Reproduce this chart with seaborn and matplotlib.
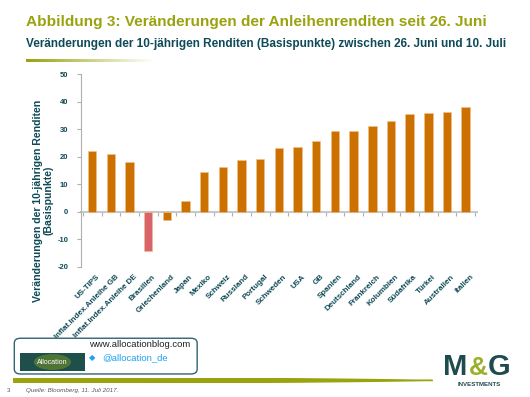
import matplotlib
matplotlib.use("Agg")
import matplotlib.pyplot as plt
import matplotlib.transforms as mtransforms
import numpy as np
import pandas as pd
import seaborn as sns
from matplotlib.patches import FancyBboxPatch, Rectangle, Ellipse

# data
laender = ["US-TIPS", "Inflat.Index.Anleihe GB", "Inflat.Index.Anleihe DE", "Brasilien",
           "Griechenland", "Japan", "Mexiko", "Schweiz", "Russland", "Portugal", "Schweden",
           "USA", "GB", "Spanien", "Deutschland", "Frankreich", "Kolumbien", "Südafrika",
           "Türkei", "Australien", "Italien"]
veraenderung = [22.2, 20.9, 18.1, -14.3, -3.1, 3.9, 14.4, 16.3, 18.9, 19.2, 23.3,
                23.4, 25.8, 29.4, 29.4, 31.0, 32.8, 35.4, 35.8, 36.2, 37.9]
yticks = [-20, -10, 0, 10, 20, 30, 40, 50]

orange = "#CC7000"
rot = "#D9636B"
teal = "#0E4A57"
oliv = "#9AA20E"

farben = {l: (rot if l == "Brasilien" else orange) for l in laender}
df = pd.DataFrame({"land": laender, "wert": veraenderung})

sns.set_style("white")
plt.rcParams["font.family"] = ["Liberation Sans", "DejaVu Sans"]

fig = plt.figure(figsize=(5.3, 3.97), dpi=100)
ax = fig.add_axes([0.1528, 0.3275, 0.747, 0.486])

sns.barplot(data=df, x="land", y="wert", hue="land", palette=farben, legend=False,
            width=0.45, ax=ax, saturation=1, edgecolor="#F2C08A", linewidth=0.4)

ymin, ymax = yticks[0], yticks[-1]
ax.set_ylim(ymin, ymax)
ax.set_xlim(-0.6, len(laender) - 0.4)
ax.set_yticks(yticks)
ax.set_yticklabels([str(t) for t in yticks], fontsize=5.5, fontweight="bold", color=teal)
ax.set_xlabel("")
ax.set_ylabel("")

for s in ["top", "right", "bottom"]:
    ax.spines[s].set_visible(False)
ax.spines["left"].set_color("#B0B0B0")
ax.spines["left"].set_linewidth(0.8)
ax.tick_params(axis="y", left=True, length=3, width=0.8, color="#B0B0B0", pad=6)

# category labels below the plot area
ax.set_xticks(range(len(laender)))
ax.set_xticklabels(laender, rotation=45, ha="right", rotation_mode="anchor",
                   fontsize=5.8, fontweight="bold", color=teal)
ax.tick_params(axis="x", bottom=False, pad=1)
shift = mtransforms.ScaledTranslation(3 / 72, 0, fig.dpi_scale_trans)
for lbl in ax.get_xticklabels():
    lbl.set_transform(lbl.get_transform() + shift)

# zero line with category separators
null = ax.secondary_xaxis((0 - ymin) / (ymax - ymin))
null.set_alignment("bottom")
null.set_xticks(np.arange(len(laender) + 1) - 0.5)
null.set_xticklabels([])
null.tick_params(axis="x", length=3, width=0.8, color="#B0B0B0", direction="out")
for s in ["top", "bottom"]:
    null.spines[s].set_color("#C8C8C8")
    null.spines[s].set_linewidth(1.5)

# titles
fig.text(0.049, 0.945, "Abbildung 3: Veränderungen der Anleihenrenditen seit 26. Juni",
         fontsize=11.1, fontweight="bold", color=oliv, va="center", ha="left")
fig.text(0.049, 0.888, "Veränderungen der 10-jährigen Renditen (Basispunkte) zwischen 26. Juni und 10. Juli",
         fontsize=8.45, fontweight="bold", color=teal, va="center", ha="left")
# fading underline
grad = np.linspace(1, 0, 200).reshape(1, -1)
ax_g = fig.add_axes([0.049, 0.845, 0.24, 0.006])
ax_g.imshow(grad, aspect="auto", cmap=matplotlib.colors.LinearSegmentedColormap.from_list(
    "g", ["white", oliv]), vmin=0, vmax=1)
ax_g.axis("off")

fig.text(0.082, 0.495, "Veränderungen der 10-jährigen Renditen\n(Basispunkte)",
         rotation=90, fontsize=7.6, fontweight="bold", color=teal,
         ha="center", va="center", linespacing=1.1)

# footer: allocation box
box = FancyBboxPatch((0.027, 0.058), 0.345, 0.09, transform=fig.transFigure,
                     boxstyle="round,pad=0.0,rounding_size=0.012",
                     facecolor="white", edgecolor="#2F6470", linewidth=1.0)
fig.patches.append(box)
fig.patches.append(Rectangle((0.038, 0.065), 0.122, 0.046, transform=fig.transFigure,
                             facecolor="#1F4F4A", edgecolor="none"))
fig.patches.append(Ellipse((0.099, 0.088), 0.07, 0.04, transform=fig.transFigure,
                           facecolor="#6F8F2A", edgecolor="none", alpha=0.6))
fig.text(0.099, 0.088, "Allocation", fontsize=5, color="white", ha="center", va="center")
fig.text(0.168, 0.131, "www.allocationblog.com", fontsize=6.8, color="#222222",
         ha="left", va="center")
fig.text(0.168, 0.1, "\u25c6", fontsize=6, color="#1DA1F2", ha="left", va="center",
         family="DejaVu Sans")
fig.text(0.192, 0.1, "@allocation_de", fontsize=6.8, color="#1DA1F2", ha="left", va="center")

# brush line
ax_b = fig.add_axes([0.025, 0.037, 0.79, 0.012])
xs = np.linspace(0, 1, 100)
ax_b.fill_between(xs, 0.5 - 0.5 * (1 - xs ** 3), 0.5 + 0.5 * (1 - xs ** 3), color=oliv)
ax_b.set_xlim(0, 1)
ax_b.set_ylim(0, 1)
ax_b.axis("off")

fig.text(0.012, 0.016, "3", fontsize=4.5, color="#555555", ha="left", va="center")
fig.text(0.049, 0.016, "Quelle: Bloomberg, 11. Juli 2017.", fontsize=4.5, style="italic",
         color="#555555", ha="left", va="center")

# M&G logo
fig.text(0.859, 0.055, "M", fontsize=21, fontweight="bold", color="#1E4B4E",
         ha="center", va="baseline")
fig.text(0.902, 0.055, "&", fontsize=19, fontweight="bold", color="#9AB02A",
         ha="center", va="baseline")
fig.text(0.942, 0.055, "G", fontsize=21, fontweight="bold", color="#1E4B4E",
         ha="center", va="baseline")
fig.text(0.905, 0.032, "INVESTMENTS", fontsize=4.4, fontweight="bold", color="#1E4B4E",
         ha="center", va="center")

fig.savefig("out.png", dpi=100)
